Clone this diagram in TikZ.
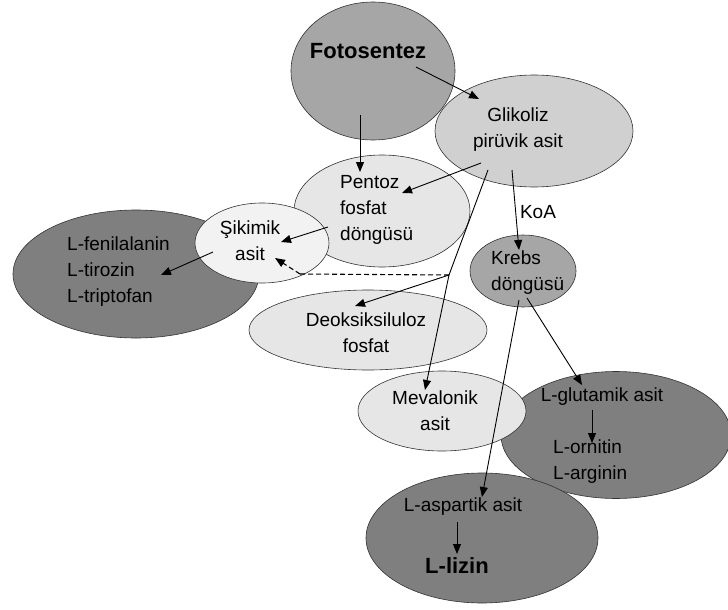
\documentclass[tikz,border=0pt]{standalone}
\usepackage{fontspec}
\setmainfont{Liberation Sans}
\usetikzlibrary{shapes.geometric,arrows.meta}
\definecolor{gA}{HTML}{7F7F7F}
\definecolor{gB}{HTML}{A6A6A6}
\definecolor{gC}{HTML}{D0D0D0}
\definecolor{gD}{HTML}{E6E6E6}
\definecolor{gE}{HTML}{F2F2F2}
\begin{document}
\begin{tikzpicture}[x=1pt,y=-1pt,
  ell/.style={ellipse,draw=black!80,line width=0.6pt,inner sep=0pt},
  lbl/.style={font=\fontsize{19}{26}\selectfont,inner sep=0pt,align=center},
  lbll/.style={font=\fontsize{19}{26}\selectfont,inner sep=0pt,align=left,anchor=west},
  big/.style={font=\fontsize{22}{26}\selectfont\bfseries,inner sep=0pt},
  arr/.style={-{Triangle[length=10pt,width=8pt]},line width=0.9pt},
]
\useasboundingbox (0,0) rectangle (728,610);
\fill[white] (0,0) rectangle (728,610);

% ellipses
\node[ell,fill=gB,minimum width=164pt,minimum height=138pt] (foto) at (373,71) {};
\node[ell,fill=gC,minimum width=198pt,minimum height=112pt] (glik) at (534,131) {};
\node[ell,fill=gD,minimum width=176pt,minimum height=112pt] (pent) at (382,211) {};
\node[ell,fill=gA,minimum width=246pt,minimum height=128pt] (feni) at (136,274) {};
\node[ell,fill=gE,minimum width=134pt,minimum height=80pt] (siki) at (262,243) {};
\node[ell,fill=gB,minimum width=106pt,minimum height=72pt] (kreb) at (523,271) {};
\node[ell,fill=gD,minimum width=238pt,minimum height=80pt] (deok) at (368,330) {};
\node[ell,fill=gA,minimum width=230pt,minimum height=127pt] (glut) at (616,435) {};
\node[ell,fill=gD,minimum width=168pt,minimum height=80pt] (meva) at (442,411) {};
\node[ell,fill=gA,minimum width=232pt,minimum height=130pt] (aspa) at (482,538) {};

% texts
\node[big] (tfoto) at (368,51) {Fotosentez};
\node[lbl] (tglik) at (518,130) {Glikoliz\\pirüvik asit};
\node[lbll] (tpent) at (340,210) {Pentoz\\fosfat\\döngüsü};
\node[lbl] (tsiki) at (250,241) {Şikimik\\asit};
\node[lbll] (tfeni) at (67,272) {L-fenilalanin\\L-tirozin\\L-triptofan};
\node[lbll] (tkreb) at (491,273) {Krebs\\döngüsü};
\node[lbl] (tkoa) at (538,212) {KoA};
\node[lbl] (tdeok) at (366,333) {Deoksiksiluloz\\fosfat};
\node[lbl] (tmeva) at (435,411) {Mevalonik\\asit};
\node[lbl] (tglut) at (602,397) {L-glutamik asit};
\node[lbll] (torni) at (553,462) {L-ornitin\\L-arginin};
\node[lbl] (taspa) at (463,507) {L-aspartik asit};
\node[big] (tlizi) at (457,566) {L-lizin};

% connector end points
\coordinate (fotoA) at (416,67);   \coordinate (glikIn) at (479,99);
\coordinate (fotoB) at (360,115);  \coordinate (pentIn) at (360,172);
\coordinate (glikA) at (481,163);  \coordinate (pentIn2) at (402,193);
\coordinate (glikB) at (488,170);  \coordinate (junc) at (449,275);
\coordinate (deokIn) at (355,306); \coordinate (mevaIn) at (425,390);
\coordinate (dashK) at (300,274);  \coordinate (sikiIn) at (275,258);
\coordinate (glikC) at (512,170);  \coordinate (krebIn) at (519,250);
\coordinate (krebA) at (527,298);  \coordinate (glutIn) at (582,385);
\coordinate (krebB) at (519,300);  \coordinate (aspaIn) at (482,497);
\coordinate (glutA) at (592,410);  \coordinate (orniIn) at (592,443);
\coordinate (aspaA) at (457,522);  \coordinate (liziIn) at (457,554);
\coordinate (sikiA) at (213,252);  \coordinate (feniIn) at (161,275);
\coordinate (pentA) at (328,227);  \coordinate (sikiIn2) at (281,242);

% connectors
\draw[arr] (fotoA) -- (glikIn);
\draw[arr] (fotoB) -- (pentIn);
\draw[arr] (glikA) -- (pentIn2);
\draw[line width=0.9pt] (glikB) -- (junc);
\draw[arr] (junc) -- (deokIn);
\draw[arr] (junc) -- (mevaIn);
\draw[line width=1.1pt,dash pattern=on 5pt off 3pt] (junc) -- (dashK);
\draw[arr,line width=1.1pt,dash pattern=on 5pt off 3pt] (dashK) -- (sikiIn);
\draw[arr] (glikC) -- (krebIn);
\draw[arr] (krebA) -- (glutIn);
\draw[arr] (krebB) -- (aspaIn);
\draw[arr] (glutA) -- (orniIn);
\draw[arr] (aspaA) -- (liziIn);
\draw[arr] (sikiA) -- (feniIn);
\draw[arr] (pentA) -- (sikiIn2);
\end{tikzpicture}
\end{document}
